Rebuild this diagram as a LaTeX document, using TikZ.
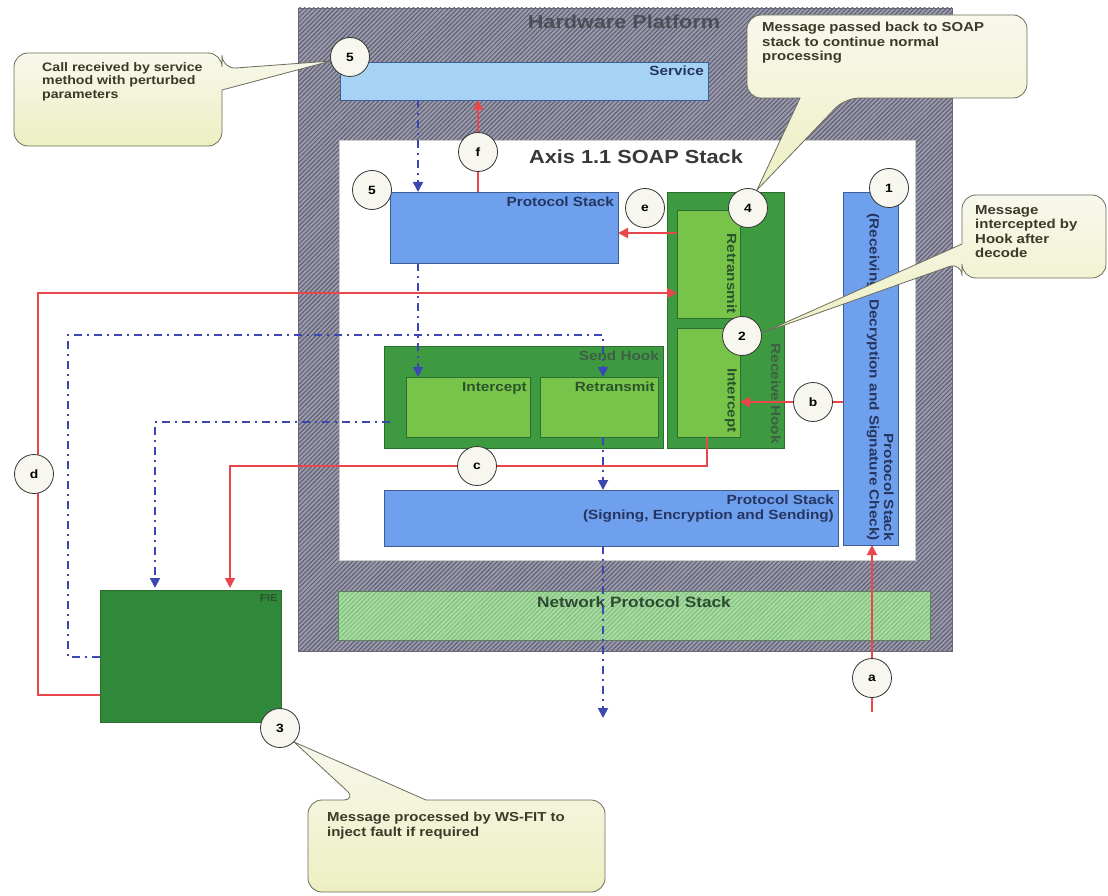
\documentclass[tikz,border=0pt]{standalone}
\usepackage{fontspec}
\setmainfont{Liberation Sans}[FakeStretch=1.15]
\usetikzlibrary{arrows.meta,patterns.meta}

\definecolor{platbase}{HTML}{9A9AAA}
\definecolor{plathatch}{HTML}{5C5C72}
\definecolor{platedge}{HTML}{66667A}
\definecolor{titlegray}{HTML}{4E4E58}
\definecolor{svcblue}{HTML}{A6D3F5}
\definecolor{psblue}{HTML}{6EA0EE}
\definecolor{blueedge}{HTML}{3F5E95}
\definecolor{navytext}{HTML}{26355F}
\definecolor{hookgreen}{HTML}{3E9A41}
\definecolor{hookedge}{HTML}{2C6E2E}
\definecolor{innergreen}{HTML}{78C44A}
\definecolor{innertext}{HTML}{2A542A}
\definecolor{hooktext}{HTML}{3F5F45}
\definecolor{fiegreen}{HTML}{30893A}
\definecolor{netbase}{HTML}{A8DCA2}
\definecolor{nethatch}{HTML}{7DBE7B}
\definecolor{netedge}{HTML}{5F7F60}
\definecolor{nettext}{HTML}{2F4A33}
\definecolor{flowred}{HTML}{E9474C}
\definecolor{flowblue}{HTML}{3B48B2}
\definecolor{calltop}{HTML}{F8F8EC}
\definecolor{callbot}{HTML}{EDEFC2}
\definecolor{calledge}{HTML}{6C6C5C}
\definecolor{calltext}{HTML}{3A3A28}
\definecolor{circfill}{HTML}{F7F7EF}

\begin{document}
\begin{tikzpicture}[x=1pt,y=-1pt,
  blk/.style={draw, line width=0.7pt, anchor=north west, inner sep=0pt, outer sep=0pt},
  sz/.style 2 args={minimum width=#1pt, minimum height=#2pt},
  lbl/.style={font=\fontsize{13.3}{14.5}\selectfont\bfseries, inner sep=0pt},
  badge/.style={circle, draw=black!80, fill=circfill, line width=0.8pt, minimum size=39pt, inner sep=0pt, font=\fontsize{12}{12}\selectfont\bfseries},
  callout/.style={draw=calledge, line width=0.8pt, top color=calltop, bottom color=callbot},
  calltxt/.style={font=\fontsize{13}{14.5}\selectfont\bfseries, text=calltext, align=left, inner sep=0pt, anchor=north west},
  head/.style={-{Triangle[width=10pt,length=10pt]}},
  redflow/.style={draw=flowred, line width=1.8pt},
  blueflow/.style={draw=flowblue, line width=1.8pt, dash pattern=on 8pt off 5pt on 2pt off 5pt},
]
\useasboundingbox (0,0) rectangle (1108,896);

% hardware platform and SOAP stack containers
\node[blk, sz={654}{643}, draw=platedge, line width=0.6pt, preaction={fill=platbase},
      pattern={Lines[angle=45,distance=3.2pt,line width=1pt]}, pattern color=plathatch] (plat) at (298,8) {};
\node[font=\fontsize{18.8}{20}\selectfont\bfseries, text=titlegray, inner sep=0pt] (hwtitle) at (624,22) {Hardware Platform};
\node[blk, sz={576}{420}, fill=white, draw=black!20, line width=0.5pt] (axis) at (339,140) {};
\node[font=\fontsize{18.9}{20}\selectfont\bfseries, text=black!78, inner sep=0pt] (axistitle) at (636,157) {Axis 1.1 SOAP Stack};

% service
\node[blk, sz={368}{38}, fill=svcblue, draw=blueedge] (service) at (340,62) {};
\node[lbl, text=navytext, anchor=north east] (servicelbl) at ([shift={(-4pt,-4pt)}]service.north east) {Service};

% upper protocol stack
\node[blk, sz={228}{71}, fill=psblue, draw=blueedge] (pstop) at (390,192) {};
\node[lbl, text=navytext, anchor=north east] (pstoplbl) at ([shift={(-4pt,-5pt)}]pstop.north east) {Protocol Stack};

% receive hook
\node[blk, sz={117}{256}, fill=hookgreen, draw=hookedge] (rhook) at (667,192) {};
\node[blk, sz={63}{108}, fill=innergreen, draw=hookedge] (rretr) at (677,210) {};
\node[blk, sz={63}{109}, fill=innergreen, draw=hookedge] (rint) at (677,328) {};
\node[lbl, text=hooktext, rotate=-90, anchor=north east] (rhooklbl) at ([shift={(-3pt,4pt)}]rhook.south east) {Receive Hook};
\node[lbl, text=innertext, rotate=-90, anchor=north east] (rretrlbl) at ([shift={(-3pt,4pt)}]rretr.south east) {Retransmit};
\node[lbl, text=innertext, rotate=-90, anchor=north east] (rintlbl) at ([shift={(-3pt,4pt)}]rint.south east) {Intercept};

% receiving protocol stack
\node[blk, sz={55}{353}, fill=psblue, draw=blueedge] (psv) at (843,192) {};
\node[lbl, text=navytext, rotate=-90, anchor=north east, align=right] (psvlbl) at ([shift={(-4pt,4pt)}]psv.south east)
  {Protocol Stack\\(Receiving, Decryption and Signature Check)};

% send hook
\node[blk, sz={279}{102}, fill=hookgreen, draw=hookedge] (shook) at (384,346) {};
\node[blk, sz={124}{60}, fill=innergreen, draw=hookedge] (sint) at (406,377) {};
\node[blk, sz={118}{60}, fill=innergreen, draw=hookedge] (sretr) at (540,377) {};
\node[lbl, text=hooktext, anchor=north east] (shooklbl) at ([shift={(-4pt,-5pt)}]shook.north east) {Send Hook};
\node[lbl, text=innertext, anchor=north east] (sintlbl) at ([shift={(-3pt,-5pt)}]sint.north east) {Intercept};
\node[lbl, text=innertext, anchor=north east] (sretrlbl) at ([shift={(-3pt,-5pt)}]sretr.north east) {Retransmit};

% sending protocol stack
\node[blk, sz={454}{56}, fill=psblue, draw=blueedge] (psb) at (384,490) {};
\node[lbl, text=navytext, anchor=north east, align=right] (psblbl) at ([shift={(-4pt,-5pt)}]psb.north east)
  {Protocol Stack\\(Signing, Encryption and Sending)};

% network protocol stack
\node[blk, sz={592}{49}, draw=netedge, line width=0.6pt, preaction={fill=netbase},
      pattern={Lines[angle=45,distance=3.2pt,line width=1pt]}, pattern color=nethatch] (net) at (338,591) {};
\node[font=\fontsize{15}{16}\selectfont\bfseries, text=nettext, inner sep=0pt, anchor=north] (netlbl) at (634,596) {Network Protocol Stack};

% fault injection engine
\node[blk, sz={181}{132}, fill=fiegreen, draw=hookedge] (fie) at (100,590) {};
\node[font=\fontsize{10}{10}\selectfont\bfseries, text=innertext, inner sep=0pt, anchor=north east] (fielbl) at ([shift={(-3pt,-4pt)}]fie.north east) {FIE};

% message flow
\draw[redflow, head] ([xshift=88pt]pstop.north west) -- ([xshift=138pt]service.south west);
\draw[blueflow, head] ([xshift=78pt]service.south west) -- ([xshift=28pt]pstop.north west);
\draw[blueflow, head] ([xshift=28pt]pstop.south west) -- ([xshift=12pt]sint.north west);
\draw[redflow, head] ([yshift=-23pt]rretr.north west) -- ([yshift=-41pt]pstop.north east);
\draw[redflow, head] ([yshift=-105pt]fie.north west) -- ++(-62,0) |- ([yshift=-83pt]rretr.north west);
\draw[blueflow, head] ([yshift=-67pt]fie.north west) -- ++(-32,0) |- ([xshift=63pt,yshift=42pt]sretr.north west) -- ([xshift=63pt]sretr.north west);
\draw[blueflow, head] ([xshift=-16pt,yshift=-45pt]sint.north west) -| ([xshift=55pt,yshift=2pt]fie.north west);
\draw[redflow, head] ([xshift=30pt]rint.south west) -- ++(0,29) -| ([xshift=130pt,yshift=2pt]fie.north west);
\draw[blueflow, head] ([xshift=63pt]sretr.south west) -- ([xshift=219pt]psb.north west);
\coordinate (sink) at (603,718);
\draw[blueflow, head] ([xshift=219pt]psb.south west) -- (sink);
\coordinate (source) at (872,712);
\draw[redflow, head] (source) -- ([xshift=29pt]psv.south west);
\draw[redflow, head] ([yshift=-210pt]psv.north west) -- ([yshift=-74pt]rint.north east);

% callouts
\path[callout] (60,53) [rounded corners=14pt] -- (222,53) -- (222,69) [sharp corners] -- (331,61) -- (222,90) -- (222,91)
  [rounded corners=14pt] -- (222,146) -- (14,146) -- (14,53) -- cycle;
\node[calltxt, font=\fontsize{12.3}{13.5}\selectfont\bfseries] (calla) at (42,62) {Call received by service\\method with perturbed\\parameters};

\path[callout] (900,15) [rounded corners=14pt] -- (1027,15) -- (1027,98) -- (845,98) [sharp corners] -- (757,190) -- (800,98) -- (799,98)
  [rounded corners=14pt] -- (747,98) -- (747,15) -- cycle;
\node[calltxt] (callb) at (762,22) {Message passed back to SOAP\\stack to continue normal\\processing};

\path[callout] (1030,195) [rounded corners=14pt] -- (1106,195) -- (1106,278) -- (962,278) -- (962,262) [sharp corners] -- (762,333) -- (962,244) -- (962,243)
  [rounded corners=14pt] -- (962,195) -- cycle;
\node[calltxt] (callc) at (975,205) {Message\\intercepted by\\Hook after\\decode};

\path[callout] (500,800) [rounded corners=14pt] -- (605,800) -- (605,892) -- (308,892) -- (308,800) -- (357,800) [sharp corners] -- (294,742) -- (426,800) -- (427,800)
  [rounded corners=14pt] -- cycle;
\node[calltxt] (calld) at (327,812) {Message processed by WS-FIT to\\inject fault if required};

% step markers
\node[badge] (m5a) at (350,57) {5};
\node[badge] (mf) at (478,152) {f};
\node[badge] (m5b) at (372,190) {5};
\node[badge] (me) at (645,208) {e};
\node[badge] (m4) at (748,208) {4};
\node[badge] (m2) at (742,336) {2};
\node[badge] (m1) at (889,188) {1};
\node[badge] (mb) at (813,402) {b};
\node[badge] (mc) at (477,466) {c};
\node[badge] (md) at (34,474) {d};
\node[badge] (m3) at (280,728) {3};
\node[badge] (ma) at (872,678) {a};
\end{tikzpicture}
\end{document}
